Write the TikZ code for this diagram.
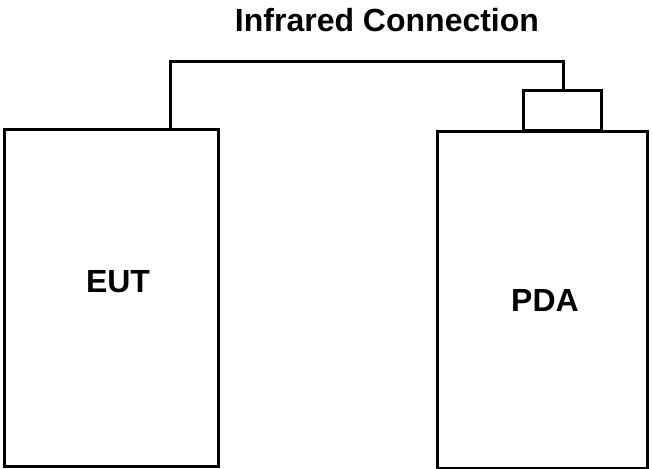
\documentclass[tikz,border=0pt]{standalone}
\usepackage{fontspec}
\setmainfont{Liberation Sans}

\begin{document}
\begin{tikzpicture}[x=0.5pt,y=-0.5pt,thick,line width=1.5pt,box/.style={draw,rectangle,inner sep=0pt},label text/.style={font=\bfseries\fontsize{16}{19}\selectfont}]
            \useasboundingbox (0,0) rectangle (652,469);
            \node[box, minimum width=107pt, minimum height=168pt] (eut) at (111.5,298) {};
            \node[box, minimum width=105pt, minimum height=168pt] (pda) at (542,300) {};
            \node[box, minimum width=39pt, minimum height=20pt, anchor=south] (ir) at (562.5,132) {};

            \node[label text] (eutlabel) at (118,282) {EUT};
            \node[label text] (pdalabel) at (545,300) {PDA};
            \node[label text] (title) at (387,20) {Infrared Connection};

            \coordinate (eutport) at (170,130);
            \coordinate (bend1) at (170,62);
            \coordinate (bend2) at (563,62);
            \path[draw]
                (eutport) -- (bend1) -- (bend2) -- (bend2 |- ir.north)
                ;
        \end{tikzpicture}
\end{document}
